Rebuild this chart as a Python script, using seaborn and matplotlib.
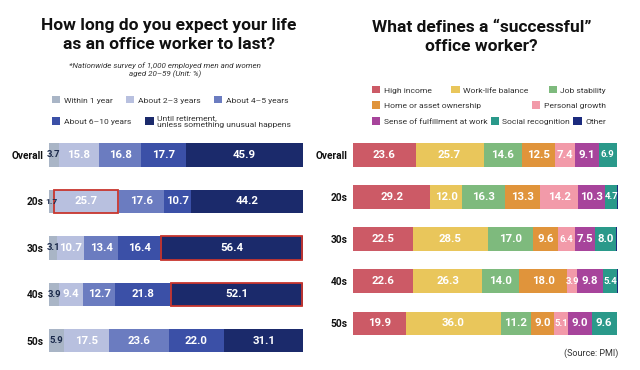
import matplotlib
matplotlib.use("Agg")
import matplotlib.pyplot as plt
from matplotlib.patches import Patch, Rectangle
import numpy as np
import pandas as pd
import seaborn as sns

groups = ["Overall", "20s", "30s", "40s", "50s"]

# left chart: expected career length
life_labels = ["Within 1 year", "About 2–3 years", "About 4–5 years",
               "About 6–10 years", "Until retirement,\nunless something unusual happens"]
life_colors = ["#a9b5c6", "#b8c0df", "#6b7cc0", "#3b50a7", "#1b2a6b"]
within_1 = [3.7, 1.7, 3.1, 3.9, 5.9]
years_2_3 = [15.8, 25.7, 10.7, 9.4, 17.5]
years_4_5 = [16.8, 17.6, 13.4, 12.7, 23.6]
years_6_10 = [17.7, 10.7, 16.4, 21.8, 22.0]
until_retire = [45.9, 44.2, 56.4, 52.1, 31.1]
life_highlight = [(1, 1), (2, 4), (3, 4)]  # (group, series)

# right chart: what defines success
succ_labels = ["High income", "Work-life balance", "Job stability",
               "Home or asset ownership", "Personal growth",
               "Sense of fulfillment at work", "Social recognition", "Other"]
succ_colors = ["#cc5a66", "#e9c65b", "#7eba7d", "#e0943b", "#f29aa9",
               "#a7449b", "#2a998a", "#1b2a7e"]
high_income = [23.6, 29.2, 22.5, 22.6, 19.9]
work_life = [25.7, 12.0, 28.5, 26.3, 36.0]
job_stability = [14.6, 16.3, 17.0, 14.0, 11.2]
home_asset = [12.5, 13.3, 9.6, 18.0, 9.0]
growth = [7.4, 14.2, 6.4, 3.9, 5.1]
fulfillment = [9.1, 10.3, 7.5, 9.8, 9.0]
recognition = [6.9, 4.7, 8.0, 5.4, 9.6]
other = [0.2, 0.3, 0.5, 0.2, 0.2]

FONT = ["Roboto", "DejaVu Sans"]


def stacked(ax, series, colors, bar_h, label_colors, show_labels):
    vals = np.array(series, dtype=float)
    cum = vals.cumsum(axis=0)
    # draw running totals back to front so each segment shows its own colour
    for k in range(len(series) - 1, -1, -1):
        df = pd.DataFrame({"group": groups, "cum": cum[k]})
        sns.barplot(data=df, x="cum", y="group", order=groups, color=colors[k],
                    saturation=1, width=bar_h, ax=ax, linewidth=0)
    for k in range(len(series)):
        if not show_labels[k]:
            continue
        for i in range(len(groups)):
            v = vals[k][i]
            mid = cum[k][i] - v / 2
            ax.text(mid, i, f"{v:.1f}", ha="center", va="center",
                    color=label_colors[k], fontweight="bold",
                    fontsize=8.2 if v >= 7 else 6.8)
    ax.set_xlim(0, cum[-1].max())
    ax.set_ylim(len(groups) - 0.5, -0.5)
    ax.set_xlabel("")
    ax.set_ylabel("")
    ax.set_xticks([])
    ax.tick_params(axis="y", length=0, pad=4)
    for lab in ax.get_yticklabels():
        lab.set_fontweight("bold")
        lab.set_fontsize(7.3)
    for s in ax.spines.values():
        s.set_visible(False)
    return vals, cum


sns.set_theme(style="white")
plt.rcParams["font.family"] = FONT
plt.rcParams["text.color"] = "#111111"
plt.rcParams["ytick.color"] = "#111111"

fig = plt.figure(figsize=(6.4, 3.7), dpi=100)
fig.patch.set_facecolor("white")

ax1 = fig.add_axes([0.077, 0.016, 0.397, 0.628])
life = [within_1, years_2_3, years_4_5, years_6_10, until_retire]
vals, cum = stacked(ax1, life, life_colors, 0.5,
                    ["#1b2a4b"] + ["white"] * 4, [True] * 5)
# tiny first segment: label sits at the bar start
for t in ax1.texts:
    if t.get_text() == "1.7":
        t.set_x(0.9)
        t.set_fontsize(6)
for gi, si in life_highlight:
    start = cum[si][gi] - vals[si][gi]
    ax1.add_patch(Rectangle((start + 0.3, gi - 0.25), vals[si][gi] - 0.6, 0.5,
                            fill=False, edgecolor="#c8362e", linewidth=1.3))

ax2 = fig.add_axes([0.552, 0.070, 0.414, 0.568])
succ = [high_income, work_life, job_stability, home_asset, growth,
        fulfillment, recognition, other]
stacked(ax2, succ, succ_colors, 0.55, ["white"] * 8, [True] * 7 + [False])

# titles
fig.text(0.264, 0.905, "How long do you expect your life\nas an office worker to last?",
         ha="center", va="center", fontsize=12.5, fontweight="bold",
         linespacing=1.3)
fig.text(0.258, 0.81, "*Nationwide survey of 1,000 employed men and women\naged 20–59 (Unit: %)",
         ha="center", va="center", fontsize=5.8, style="italic", color="#333333")
fig.text(0.752, 0.9, "What defines a “successful”\noffice worker?",
         ha="center", va="center", fontsize=12.5, fontweight="bold",
         linespacing=1.3)
fig.text(0.966, 0.045, "(Source: PMI)", ha="right", va="center", fontsize=6.5,
         color="#333333")

leg_kw = dict(frameon=False, mode="expand", handlelength=0.95,
              handleheight=0.95, handletextpad=0.45, borderaxespad=0,
              borderpad=0, loc="center", columnspacing=0.5)


def legend_row(labels, colors, x0, x1, y, size):
    h = [Patch(facecolor=c, edgecolor="none") for c in colors]
    lg = fig.legend(h, labels, ncol=len(labels), fontsize=size,
                    bbox_to_anchor=(x0, y - 0.02, x1 - x0, 0.04), **leg_kw)
    for t in lg.get_texts():
        t.set_color("#333333")
    return lg


legend_row(life_labels[:3], life_colors[:3], 0.081, 0.45, 0.73, 6.1)
legend_row(life_labels[3:], life_colors[3:], 0.081, 0.455, 0.672, 6.1)

legend_row(succ_labels[:3], succ_colors[:3], 0.581, 0.947, 0.757, 6.1)
legend_row(succ_labels[3:5], succ_colors[3:5], 0.581, 0.947, 0.716, 6.1)
legend_row(succ_labels[5:], succ_colors[5:], 0.581, 0.947, 0.673, 6.1)

fig.savefig("out.png", dpi=100, facecolor="white")
